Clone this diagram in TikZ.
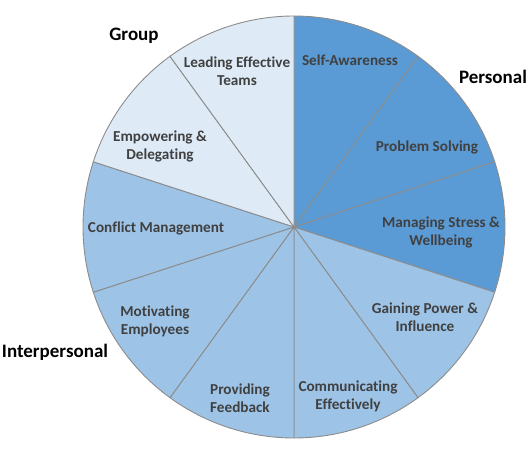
\documentclass[tikz,border=0pt]{standalone}
\usepackage{fontspec}
\setmainfont{Carlito}[Ligatures=NoCommon]
\definecolor{darkb}{HTML}{5B9BD5}
\definecolor{midb}{HTML}{9DC3E6}
\definecolor{lightb}{HTML}{DEEBF7}
\definecolor{edgeg}{HTML}{8C8C8C}
\definecolor{txtg}{HTML}{404040}
\tikzset{
  slice/.style={draw=edgeg, line width=0.9pt},
  lab/.style={font=\fontsize{15.2}{18}\selectfont\bfseries, text=txtg, align=center, inner sep=0pt},
  cat/.style={font=\fontsize{19}{22}\selectfont\bfseries, text=black, inner sep=0pt}
}
\begin{document}
\begin{tikzpicture}[x=1pt,y=1pt]
\useasboundingbox (0,0) rectangle (531,448);
\coordinate (C) at (294,221);
\def\R{211}
\foreach \a/\col in {90/darkb,54/darkb,18/darkb,-18/midb,-54/midb,-90/midb,-126/midb,-162/midb,162/lightb,126/lightb}{
  \filldraw[slice, fill=\col] (C) -- ++(\a:\R) arc[start angle=\a, delta angle=-36, radius=\R] -- cycle;
}
\node[lab] (sa) at (350,388) {Self-Awareness};
\node[lab] (ps) at (427,301) {Problem Solving};
\node[lab] (ms) at (441,216) {Managing Stress \&\\Wellbeing};
\node[lab] (gp) at (425,131) {Gaining Power \&\\Influence};
\node[lab] (ce) at (348,52) {Communicating\\Effectively};
\node[lab] (pf) at (240,50) {Providing\\Feedback};
\node[lab] (me) at (155,127) {Motivating\\Employees};
\node[lab] (cm) at (156,220) {Conflict Management};
\node[lab] (ed) at (160,302) {Empowering \&\\Delegating};
\node[lab] (lt) at (237,377) {Leading Effective\\Teams};
\node[cat] (grp) at (134,412) {Group};
\node[cat] (per) at (493,371) {Personal};
\node[cat] (int) at (55,96) {Interpersonal};
\end{tikzpicture}
\end{document}
